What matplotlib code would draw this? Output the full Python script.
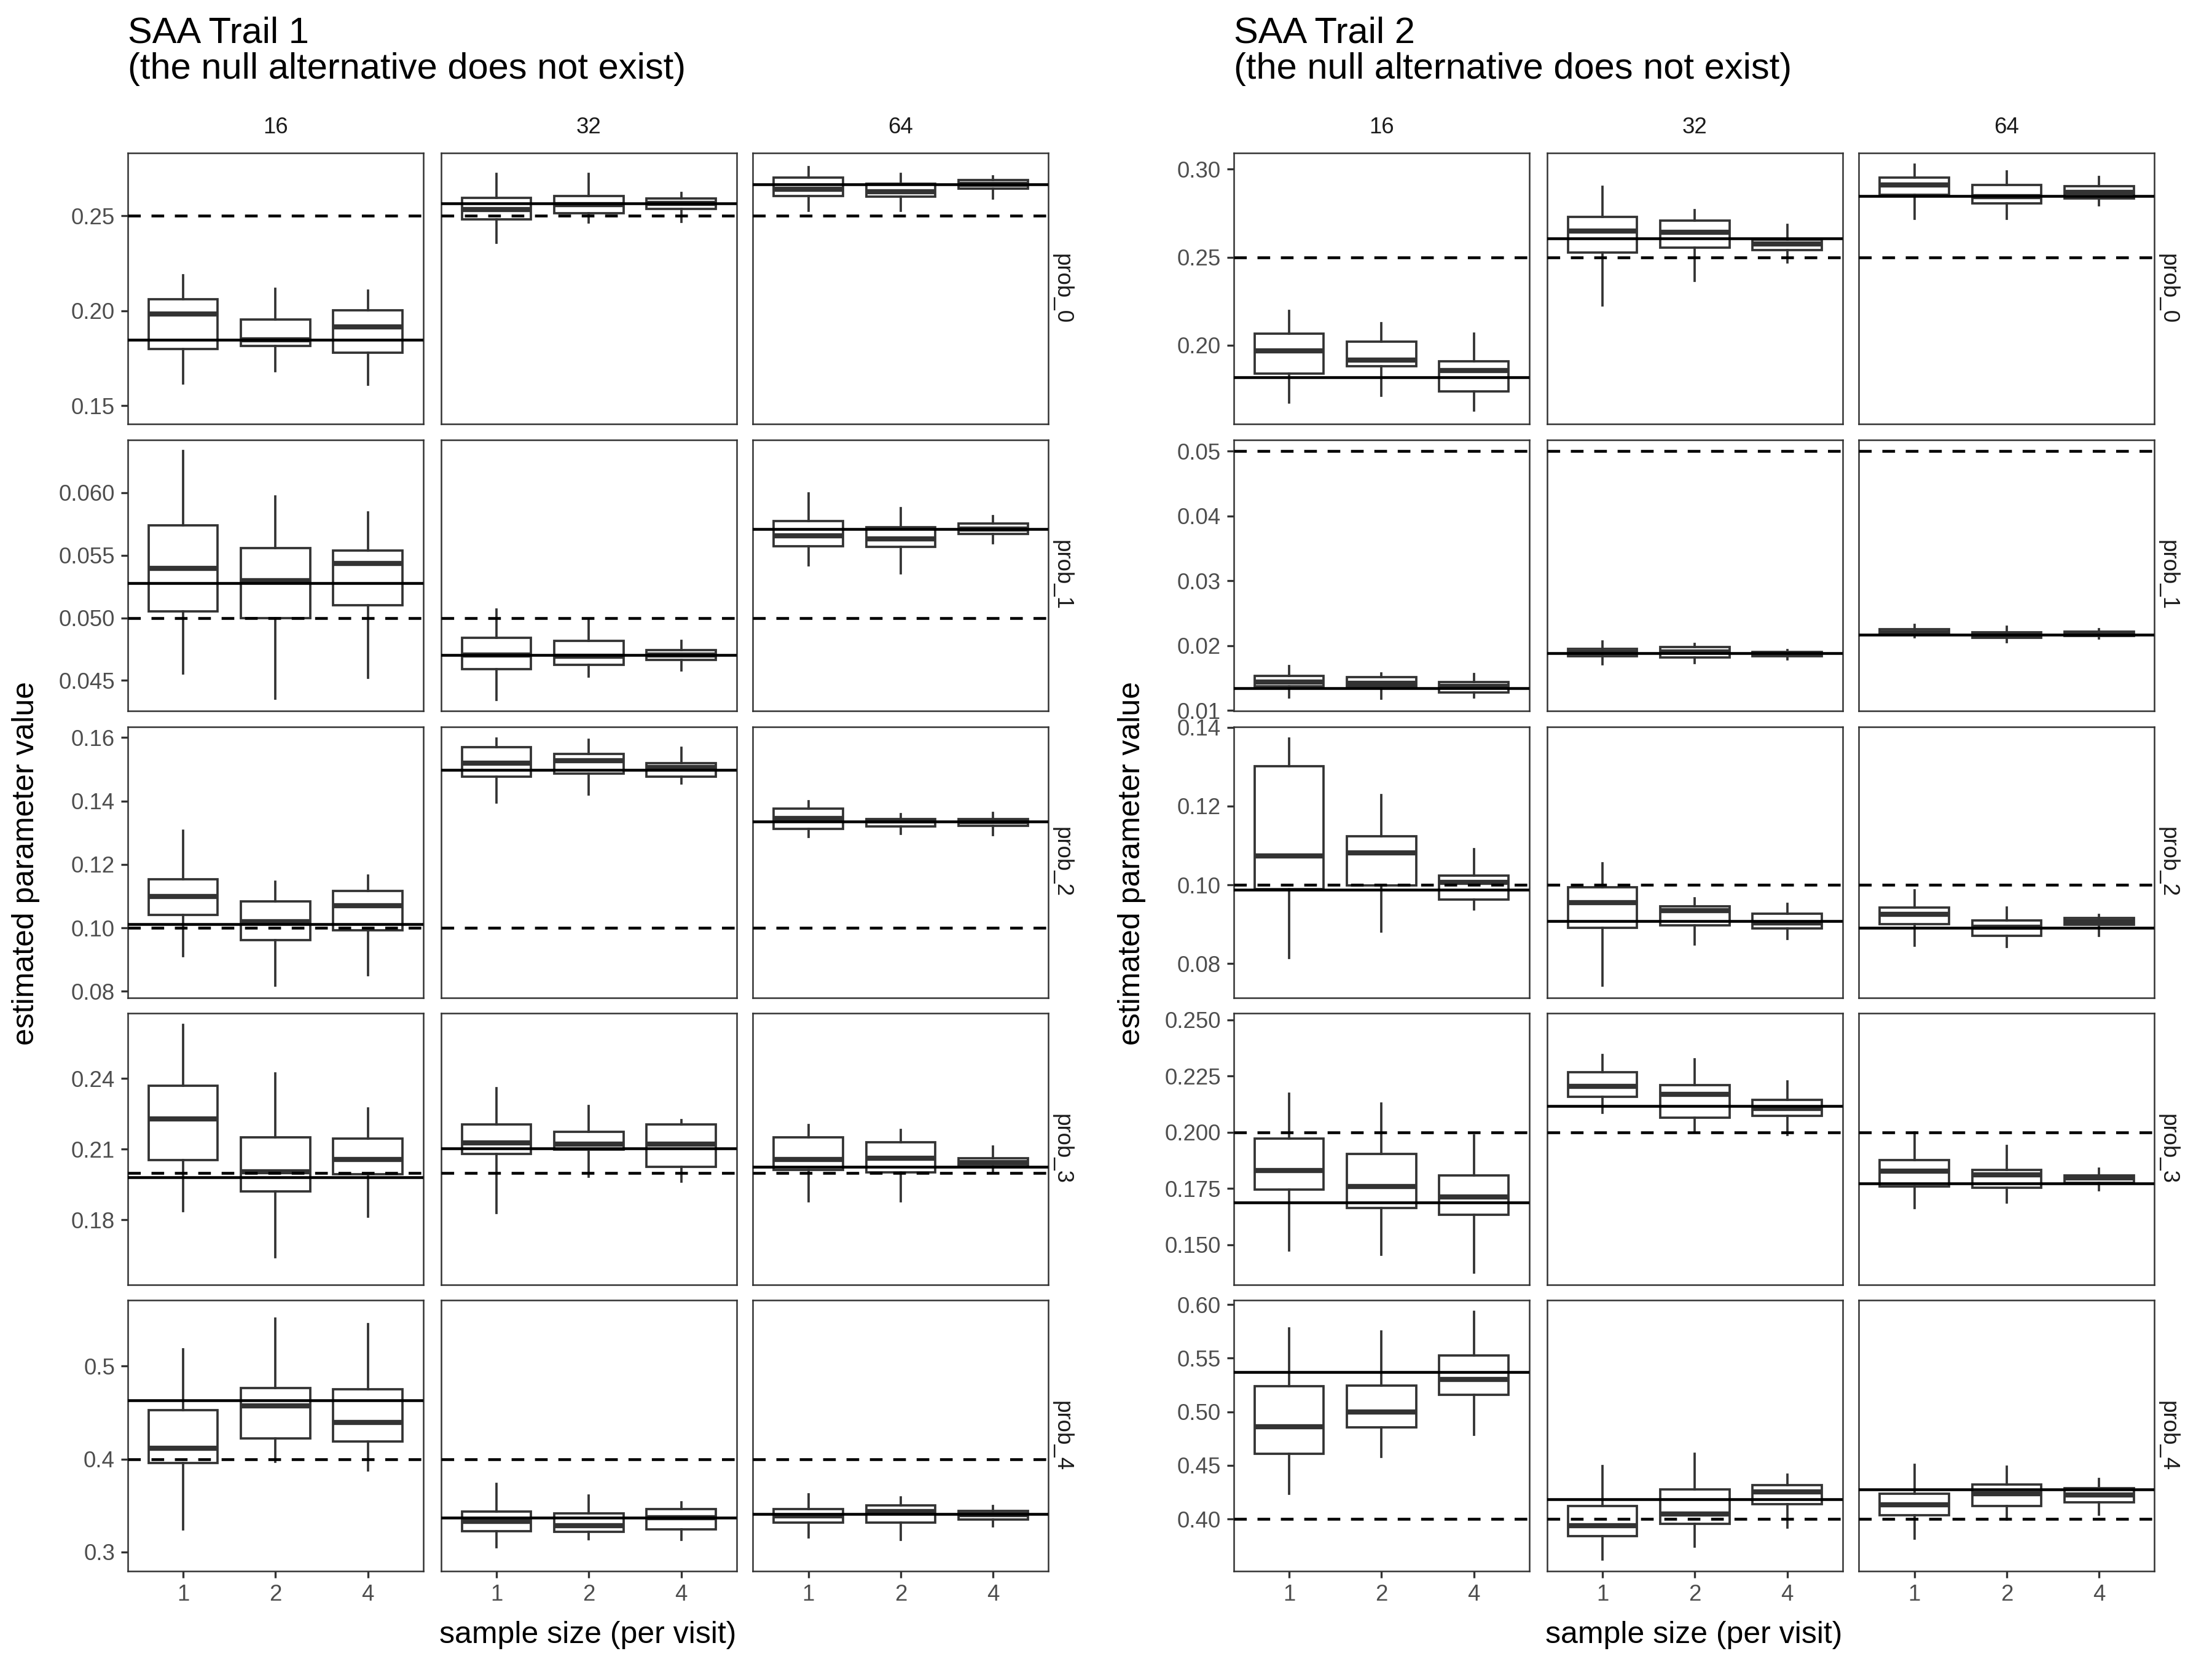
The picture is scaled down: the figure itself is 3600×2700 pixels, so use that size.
import matplotlib
matplotlib.use("Agg")
import matplotlib.pyplot as plt

plt.rcParams['font.family'] = ['Liberation Sans', 'DejaVu Sans']

# facets
visits = ['16', '32', '64']
sample_sizes = ['1', '2', '4']
params = ['prob_0', 'prob_1', 'prob_2', 'prob_3', 'prob_4']
null_values = [0.25, 0.05, 0.10, 0.20, 0.40]

# box stats per facet: (whisker low, q1, median, q3, whisker high) for sample size 1, 2, 4
# trial 1, one list per visit column (16, 32, 64)
trial1_prob0 = [
    [(0.1618, 0.1799, 0.1983, 0.2060, 0.2186), (0.1684, 0.1814, 0.1848, 0.1955, 0.2115), (0.1613, 0.1780, 0.1917, 0.2004, 0.2107)],
    [(0.2357, 0.2483, 0.2532, 0.2596, 0.2720), (0.2464, 0.2515, 0.2560, 0.2603, 0.2720), (0.2468, 0.2538, 0.2564, 0.2592, 0.2622)],
    [(0.2528, 0.2603, 0.2639, 0.2701, 0.2756), (0.2528, 0.2600, 0.2628, 0.2669, 0.2720), (0.2592, 0.2643, 0.2667, 0.2690, 0.2707)],
]
trial1_prob1 = [
    [(0.04555, 0.05052, 0.05393, 0.05740, 0.06331), (0.04354, 0.04997, 0.05295, 0.05558, 0.05968), (0.04523, 0.05101, 0.05435, 0.05539, 0.05844)],
    [(0.04344, 0.04588, 0.04701, 0.04841, 0.05065), (0.04532, 0.04627, 0.04695, 0.04818, 0.04994), (0.04581, 0.04662, 0.04701, 0.04744, 0.04815)],
    [(0.05422, 0.05571, 0.05653, 0.05773, 0.05994), (0.05357, 0.05568, 0.05630, 0.05724, 0.05877), (0.05594, 0.05669, 0.05708, 0.05753, 0.05812)],
]
trial1_prob2 = [
    [(0.0911, 0.1040, 0.1099, 0.1154, 0.1307), (0.0818, 0.0962, 0.1020, 0.1083, 0.1146), (0.0852, 0.0993, 0.1070, 0.1117, 0.1164)],
    [(0.1395, 0.1477, 0.1519, 0.1569, 0.1596), (0.1420, 0.1486, 0.1527, 0.1548, 0.1593), (0.1456, 0.1477, 0.1506, 0.1519, 0.1568)],
    [(0.1287, 0.1313, 0.1346, 0.1376, 0.1400), (0.1296, 0.1319, 0.1337, 0.1344, 0.1358), (0.1293, 0.1321, 0.1335, 0.1344, 0.1363)],
]
trial1_prob3 = [
    [(0.1837, 0.2053, 0.2228, 0.2370, 0.2628), (0.1643, 0.1920, 0.2004, 0.2151, 0.2421), (0.1814, 0.1994, 0.2058, 0.2145, 0.2272)],
    [(0.1830, 0.2079, 0.2127, 0.2206, 0.2358), (0.1984, 0.2098, 0.2121, 0.2175, 0.2283), (0.1964, 0.2025, 0.2121, 0.2206, 0.2224)],
    [(0.1879, 0.2013, 0.2057, 0.2151, 0.2204), (0.1879, 0.2002, 0.2063, 0.2130, 0.2183), (0.2007, 0.2028, 0.2044, 0.2061, 0.2111)],
]
trial1_prob4 = [
    [(0.3239, 0.3954, 0.4117, 0.4527, 0.5181), (0.3972, 0.4221, 0.4570, 0.4766, 0.5511), (0.3875, 0.4188, 0.4394, 0.4753, 0.5455)],
    [(0.3051, 0.3221, 0.3328, 0.3433, 0.3730), (0.3137, 0.3214, 0.3280, 0.3417, 0.3603), (0.3127, 0.3239, 0.3369, 0.3461, 0.3532)],
    [(0.3155, 0.3318, 0.3387, 0.3463, 0.3621), (0.3132, 0.3318, 0.3435, 0.3501, 0.3585), (0.3272, 0.3349, 0.3400, 0.3440, 0.3494)],
]
trial1_truth = [
    [0.1848, 0.2564, 0.2665],
    [0.05279, 0.04701, 0.05708],
    [0.1012, 0.1499, 0.1336],
    [0.1981, 0.2103, 0.2026],
    [0.4634, 0.3369, 0.3407],
]

# trial 2
trial2_prob0 = [
    [(0.1675, 0.1841, 0.1970, 0.2065, 0.2194), (0.1714, 0.1880, 0.1917, 0.2021, 0.2124), (0.1629, 0.1737, 0.1857, 0.1910, 0.2065)],
    [(0.2226, 0.2525, 0.2650, 0.2730, 0.2899), (0.2366, 0.2555, 0.2641, 0.2707, 0.2767), (0.2470, 0.2539, 0.2576, 0.2601, 0.2684)],
    [(0.2717, 0.2855, 0.2912, 0.2954, 0.3025), (0.2717, 0.2806, 0.2843, 0.2912, 0.2988), (0.2795, 0.2834, 0.2869, 0.2903, 0.2956)],
]
trial2_prob1 = [
    [(0.01206, 0.01374, 0.01436, 0.01536, 0.01685), (0.01187, 0.01374, 0.01424, 0.01517, 0.01573), (0.01206, 0.01280, 0.01374, 0.01436, 0.01561)],
    [(0.01717, 0.01835, 0.01891, 0.01953, 0.02065), (0.01735, 0.01822, 0.01903, 0.01978, 0.02028), (0.01791, 0.01835, 0.01872, 0.01903, 0.01935)],
    [(0.02134, 0.02165, 0.02202, 0.02259, 0.02321), (0.02059, 0.02121, 0.02165, 0.02209, 0.02296), (0.02109, 0.02146, 0.02184, 0.02221, 0.02259)],
]
trial2_prob2 = [
    [(0.0814, 0.0989, 0.1074, 0.1301, 0.1372), (0.0881, 0.0999, 0.1082, 0.1124, 0.1228), (0.0938, 0.0962, 0.1007, 0.1024, 0.1090)],
    [(0.0744, 0.0891, 0.0955, 0.0994, 0.1055), (0.0849, 0.0897, 0.0934, 0.0946, 0.0965), (0.0862, 0.0889, 0.0903, 0.0926, 0.0951)],
    [(0.0845, 0.0900, 0.0925, 0.0942, 0.0986), (0.0843, 0.0871, 0.0893, 0.0910, 0.0943), (0.0871, 0.0898, 0.0907, 0.0916, 0.0924)],
]
trial2_prob3 = [
    [(0.1474, 0.1745, 0.1830, 0.1971, 0.2171), (0.1457, 0.1664, 0.1758, 0.1903, 0.2129), (0.1376, 0.1632, 0.1713, 0.1807, 0.1987)],
    [(0.2087, 0.2158, 0.2205, 0.2267, 0.2343), (0.2003, 0.2066, 0.2170, 0.2210, 0.2323), (0.1988, 0.2074, 0.2106, 0.2143, 0.2227)],
    [(0.1664, 0.1758, 0.1827, 0.1877, 0.2000), (0.1689, 0.1753, 0.1810, 0.1832, 0.1939), (0.1743, 0.1776, 0.1797, 0.1807, 0.1839)],
]
trial2_prob4 = [
    [(0.4233, 0.4610, 0.4861, 0.5240, 0.5780), (0.4577, 0.4857, 0.4996, 0.5244, 0.5751), (0.4784, 0.5156, 0.5302, 0.5524, 0.5930)],
    [(0.3621, 0.3841, 0.3938, 0.4123, 0.4493), (0.3742, 0.3956, 0.4046, 0.4275, 0.4610), (0.3919, 0.4137, 0.4253, 0.4315, 0.4414)],
    [(0.3815, 0.4035, 0.4132, 0.4233, 0.4507), (0.3996, 0.4123, 0.4233, 0.4322, 0.4487), (0.4040, 0.4154, 0.4227, 0.4286, 0.4374)],
]
trial2_truth = [
    [0.1820, 0.2606, 0.2846],
    [0.01349, 0.01885, 0.02165],
    [0.0988, 0.0908, 0.0891],
    [0.1689, 0.2116, 0.1773],
    [0.5370, 0.4183, 0.4275],
]

# axis ranges and ticks per row
trial1_ylims = [(0.1404, 0.2831), (0.04257, 0.06422), (0.07798, 0.16345), (0.1526, 0.2676), (0.2789, 0.5710)]
trial1_yticks = [[0.15, 0.20, 0.25], [0.045, 0.050, 0.055, 0.060], [0.08, 0.10, 0.12, 0.14, 0.16],
                 [0.18, 0.21, 0.24], [0.3, 0.4, 0.5]]
trial1_digits = [2, 3, 2, 2, 1]
trial2_ylims = [(0.1553, 0.3092), (0.00995, 0.05174), (0.0713, 0.1402), (0.1323, 0.2528), (0.3511, 0.6040)]
trial2_yticks = [[0.20, 0.25, 0.30], [0.01, 0.02, 0.03, 0.04, 0.05], [0.08, 0.10, 0.12, 0.14],
                 [0.150, 0.175, 0.200, 0.225, 0.250], [0.40, 0.45, 0.50, 0.55, 0.60]]
trial2_digits = [2, 2, 2, 3, 2]

trial1_rows = [trial1_prob0, trial1_prob1, trial1_prob2, trial1_prob3, trial1_prob4]
trial2_rows = [trial2_prob0, trial2_prob1, trial2_prob2, trial2_prob3, trial2_prob4]

DARK = '#333333'

fig = plt.figure(figsize=(12, 9), dpi=300)

row_top = 0.0922
row_pitch = 0.1729
row_h = 0.1634
col_w = 0.1336


def draw_trial(rows, truth, ylims, yticks, digits, x0, title):
    col_x = [x0, x0 + 0.1417, x0 + 0.2827]
    for r in range(5):
        bottom = 1 - (row_top + r * row_pitch + row_h)
        for c in range(3):
            ax = fig.add_axes([col_x[c], bottom, col_w, row_h])
            stats = [dict(whislo=b[0], q1=b[1], med=b[2], q3=b[3], whishi=b[4], fliers=[])
                     for b in rows[r][c]]
            ax.bxp(stats, positions=[1, 2, 3], widths=0.75, showcaps=False, showfliers=False,
                   patch_artist=True,
                   boxprops=dict(facecolor='white', edgecolor=DARK, linewidth=0.9),
                   whiskerprops=dict(color=DARK, linewidth=0.9),
                   medianprops=dict(color=DARK, linewidth=2.0, solid_capstyle='butt'))
            ax.axhline(null_values[r], color='black', linewidth=1.1, linestyle=(0, (4.5, 3.8)), zorder=4)
            ax.axhline(truth[r][c], color='black', linewidth=1.1, zorder=5)
            ax.set_xlim(0.4, 3.6)
            ax.set_ylim(*ylims[r])
            for s in ax.spines.values():
                s.set_color(DARK)
                s.set_linewidth(0.6)
            ax.tick_params(length=2.75, width=0.8, color=DARK, labelcolor='#4D4D4D',
                           labelsize=8.8, pad=2.2)
            if c == 0:
                ax.set_yticks(yticks[r])
                ax.set_yticklabels([f'{v:.{digits[r]}f}' for v in yticks[r]])
            else:
                ax.set_yticks([])
            ax.set_xticks([1, 2, 3])
            if r == 4:
                ax.set_xticklabels(sample_sizes)
            else:
                ax.set_xticks([])
            if r == 0:
                ax.text(0.5, 1.055, visits[c], transform=ax.transAxes, ha='center', va='bottom',
                        fontsize=8.8, color='#1A1A1A')
            if c == 2:
                ax.text(1.045, 0.5, params[r], transform=ax.transAxes, rotation=-90,
                        ha='center', va='center', fontsize=8.8, color='#1A1A1A')
    fig.text(x0, 0.990, title, ha='left', va='top', fontsize=14.3, linespacing=1.07)
    fig.text(x0 - 0.046, 0.4795, 'estimated parameter value', rotation=90,
             ha='center', va='center', fontsize=12)
    fig.text(x0 + 0.208, 0.0145, 'sample size (per visit)', ha='center', va='center', fontsize=12)


draw_trial(trial1_rows, trial1_truth, trial1_ylims, trial1_yticks, trial1_digits, 0.0577,
           'SAA Trail 1\n(the null alternative does not exist)')
draw_trial(trial2_rows, trial2_truth, trial2_ylims, trial2_yticks, trial2_digits, 0.5577,
           'SAA Trail 2\n(the null alternative does not exist)')

fig.savefig('out.png', dpi=300, facecolor='white')
